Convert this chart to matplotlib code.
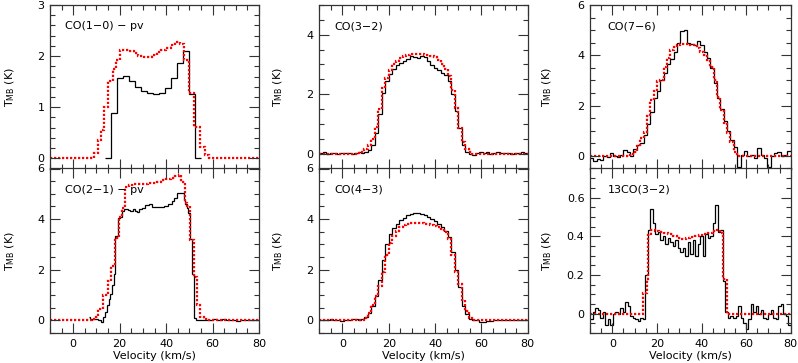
import numpy as np
import matplotlib
matplotlib.use('Agg')
import matplotlib.pyplot as plt
from matplotlib.ticker import MultipleLocator, FuncFormatter

# ---------------- data ----------------
# CO(1-0) observed (black) : channel edges and brightness
co10_obs_edges = [13.7, 16.27, 18.84, 21.41, 23.98, 26.55, 29.12, 31.69, 34.26,
                  36.83, 39.4, 41.97, 44.54, 47.11, 49.68, 52.25, 54.82]
co10_obs = [0, 0.88, 1.58, 1.61, 1.52, 1.39, 1.31, 1.27, 1.25, 1.28, 1.37, 1.57,
            1.86, 2.09, 1.26, 0]
# CO(1-0) pv model (red)
co10_mod_edges = [-10, 8.8, 10.5, 12.0, 13.2, 15.0, 17.0, 18.6, 20.3, 22, 24, 26, 28,
                  30, 32, 34, 36, 38, 40, 42, 44, 46, 47.6, 49.8, 52.2, 54.4, 56.6,
                  58.6, 80]
co10_mod = [0, 0.1, 0.35, 0.55, 1.0, 1.52, 1.75, 1.92, 2.11, 2.12, 2.1, 2.06, 2.01,
            1.98, 1.99, 2.03, 2.08, 2.12, 2.16, 2.21, 2.27, 2.24, 1.93, 1.28, 0.62,
            0.23, 0.06, 0]

# CO(2-1)
co21_obs_edges = [6.6, 7.4, 9.0, 10.5, 12.0, 12.8, 13.6, 14.4, 15.2, 16.0, 16.8, 17.6,
                  18.2, 19.2, 20.2, 21.0, 22.0, 23.4, 24.6, 25.6, 26.6, 27.6, 28.4,
                  29.6, 31.0, 32.6, 34.0, 35.4, 37.0, 39.0, 41.0, 42.4, 43.6, 44.8,
                  47.6, 48.2, 48.8, 49.6, 50.4, 51.2, 52.2, 53.0, 56.0, 58.0, 60.2,
                  62.0, 64.0, 66.0, 68.0, 70.0, 72.0, 76.0, 80.0]
co21_obs = [0.15, 0.05, 0.06, 0.0, -0.06, 0.12, 0.33, 0.62, 0.85, 1.05, 1.4, 1.85,
            3.35, 4.03, 4.1, 4.33, 4.38, 4.36, 4.32, 4.4, 4.33, 4.28, 4.38, 4.45,
            4.55, 4.58, 4.48, 4.47, 4.48, 4.5, 4.58, 4.7, 4.82, 5.03, 4.75, 4.6,
            4.45, 4.25, 3.2, 1.85, 0.08, 0.03, 0.0, 0.02, 0.06, 0.02, 0.05, 0.0,
            0.01, -0.03, 0.02, 0.02]
co21_mod_edges = [-10, 8.0, 9.6, 10.6, 12.7, 14.9, 16.3, 18.2, 19.6, 20.8, 22.4, 24.2,
                  26, 28, 30, 32, 34, 36, 38, 40, 42, 44, 45.6, 46.6, 48.0, 48.8,
                  50.2, 52.0, 53.3, 54.5, 56.5, 58.0, 80]
co21_mod = [0, 0.05, 0.13, 0.46, 1.0, 1.55, 2.15, 3.25, 4.1, 4.43, 5.28, 5.36, 5.38,
            5.37, 5.38, 5.42, 5.44, 5.48, 5.53, 5.58, 5.63, 5.7, 5.75, 5.48, 4.63,
            4.5, 3.17, 1.72, 0.6, 0.13, 0.05, 0]

# uniform 1.5 km/s channel grid (-10 .. 80) for CO(3-2), CO(4-3), CO(7-6)
grid_start, grid_stop, grid_step = -10.0, 80.0, 1.5

co32_obs = [0.02, 0.04, 0.0, 0.01, 0.03, 0.0, 0.02, 0.01, 0.03, 0.0, 0.02, 0.05,
            0.02, 0.06, 0.12, 0.28, 0.7, 1.35, 2.05, 2.45, 2.68, 2.85, 2.97, 3.05,
            3.12, 3.2, 3.27, 3.24, 3.22, 3.3, 3.24, 3.12, 2.98, 2.88, 2.8, 2.7,
            2.63, 2.45, 2.0, 1.45, 0.85, 0.3, 0.06, 0.0, -0.03, 0.02, 0.04, 0.01,
            0.04, 0.0, 0.03, 0.04, 0.01, 0.03, 0.02, 0.0, 0.03, 0.01, 0.04, 0.02]
co32_mod = [0, 0, 0, 0, 0, 0, 0, 0, 0, 0, 0, 0.01, 0.05, 0.14, 0.28, 0.5, 0.9, 1.5,
            2.2, 2.55, 2.82, 3.0, 3.13, 3.22, 3.28, 3.32, 3.34, 3.35, 3.35, 3.34,
            3.33, 3.32, 3.3, 3.25, 3.15, 3.02, 2.85, 2.62, 2.15, 1.55, 0.85, 0.38,
            0.14, 0.04, 0, 0, 0, 0, 0, 0, 0, 0, 0, 0, 0, 0, 0, 0, 0, 0]

co43_obs = [0.0, 0.01, 0.03, 0.05, 0.03, 0.01, -0.02, 0.0, 0.02, 0.06, 0.04, 0.03,
            0.05, 0.12, 0.3, 0.58, 0.95, 1.6, 2.4, 3.0, 3.4, 3.65, 3.82, 3.95, 4.05,
            4.15, 4.22, 4.25, 4.25, 4.22, 4.18, 4.1, 4.02, 3.92, 3.8, 3.68, 3.55,
            3.3, 2.7, 2.0, 1.3, 0.55, 0.25, 0.07, 0.02, 0.0, -0.05, -0.06, -0.04,
            -0.01, 0.0, 0.01, 0.0, 0.01, 0.0, 0.02, 0.01, 0.0, 0.01, 0.0]
co43_mod = [0, 0, 0, 0, 0, 0, 0, 0, 0, 0, 0, 0, 0.02, 0.1, 0.3, 0.62, 0.95, 1.35,
            1.9, 2.6, 3.05, 3.35, 3.55, 3.68, 3.77, 3.82, 3.84, 3.85, 3.85, 3.84,
            3.82, 3.8, 3.77, 3.73, 3.68, 3.6, 3.5, 3.2, 2.6, 1.9, 1.45, 0.8, 0.35,
            0.1, 0.02, 0, 0, 0, 0, 0, 0, 0, 0, 0, 0, 0, 0, 0, 0, 0]

co76_obs = [-0.1, -0.2, -0.14, -0.16, 0.0, -0.06, 0.1, -0.02, -0.04, 0.05, 0.24,
            0.15, -0.02, 0.28, 0.45, 0.52, 0.85, 1.25, 1.75, 2.3, 2.6, 3.0, 3.3,
            3.65, 3.85, 4.15, 4.5, 4.95, 5.0, 4.5, 4.45, 4.4, 4.55, 4.4, 4.15, 3.9,
            3.5, 2.9, 2.3, 1.85, 1.4, 1.0, 0.62, 0.35, -0.43, 0.05, 0.2, 0.0, 0.05,
            -0.08, 0.3, 0.05, -0.1, -0.43, 0.0, 0.1, 0.15, -0.02, 0.05, 0.2]
co76_mod = [0, 0, 0, 0, 0, 0, 0, 0, 0, 0, 0, 0, 0.04, 0.17, 0.4, 0.7, 0.97, 1.57,
            2.24, 2.6, 2.97, 3.0, 3.55, 3.9, 4.2, 4.35, 4.42, 4.45, 4.45, 4.44,
            4.42, 4.4, 4.3, 4.15, 4.0, 3.8, 3.55, 3.0, 2.35, 1.84, 1.3, 0.9, 0.55,
            0.17, 0, 0, 0, 0, 0, 0, 0, 0, 0, 0, 0, 0, 0, 0, 0, 0]

# 13CO(3-2): observed on a 1.125 km/s grid
c13_step = 1.125
c13_obs = [-0.03, 0.01, 0.03, 0.02, -0.02, 0.01, -0.06, -0.03, -0.06, 0.0, 0.01,
           0.0, 0.03, 0.01, 0.06, 0.04, -0.01, -0.02, -0.03, -0.04, -0.02, -0.03,
           0.2, 0.43, 0.54, 0.47, 0.41, 0.42, 0.38, 0.4, 0.36, 0.39, 0.37, 0.35,
           0.38, 0.34, 0.32, 0.34, 0.3, 0.37, 0.31, 0.38, 0.3, 0.36, 0.4, 0.3,
           0.41, 0.39, 0.4, 0.47, 0.56, 0.42, 0.43, 0.17, 0.01, -0.02, -0.01,
           -0.02, -0.01, 0.04, -0.02, -0.05, -0.08, -0.03, 0.05, 0.01, 0.04, 0.0,
           0.02, -0.02, -0.03, 0.0, 0.02, -0.02, -0.03, 0.04, 0.05, 0.0, -0.01,
           -0.06]
c13_mod_edges = [-10, 13.9, 15.4, 16.2, 17.5, 19, 21, 23, 25, 27, 29, 31, 33, 35,
                 37, 39, 41, 43, 45, 47, 48.5, 49.8, 51.6, 80]
c13_mod = [0, 0.107, 0.18, 0.405, 0.43, 0.425, 0.42, 0.415, 0.41, 0.4, 0.39, 0.385,
           0.39, 0.395, 0.4, 0.405, 0.41, 0.415, 0.425, 0.43, 0.415, 0.18, 0]

# ---------------- figure ----------------
W, H = 798, 363
fig = plt.figure(figsize=(W / 100, H / 100), dpi=100)
FS = 8
AXC = '#333333'


def add_ax(x0, x1, y0, y1):
    return fig.add_axes([x0 / W, 1 - y1 / H, (x1 - x0) / W, (y1 - y0) / H])


def fmt(v, pos):
    s = '%g' % round(v, 4)
    return '0' if s == '-0' else s


grid_edges = np.linspace(grid_start, grid_stop, len(co32_obs) + 1)
c13_edges = np.linspace(grid_start, grid_stop, len(c13_obs) + 1)

cols = [(50, 259), (319.3, 527.7), (590, 790.7)]
ytop, ymid, ybot = 5, 168.5, 333
ylab_x = [-0.16, -0.164, -0.18]

panels = [
    # col, row, label, obs(edges, vals), mod(edges, vals), ylim, major, minor
    (0, 0, 'CO(1\u22120) \u2212 pv', (co10_obs_edges, co10_obs), (co10_mod_edges, co10_mod),
     (-0.2, 3.0), 1, 0.2),
    (0, 1, 'CO(2\u22121) \u2212 pv', (co21_obs_edges, co21_obs), (co21_mod_edges, co21_mod),
     (-0.5, 6.0), 2, 0.5),
    (1, 0, 'CO(3\u22122)', (grid_edges, co32_obs), (grid_edges, co32_mod),
     (-0.5, 5.0), 2, 0.5),
    (1, 1, 'CO(4\u22123)', (grid_edges, co43_obs), (grid_edges, co43_mod),
     (-0.5, 6.0), 2, 0.5),
    (2, 0, 'CO(7\u22126)', (grid_edges, co76_obs), (grid_edges, co76_mod),
     (-0.5, 6.0), 2, 0.5),
    (2, 1, '13CO(3\u22122)', (c13_edges, c13_obs), (c13_mod_edges, c13_mod),
     (-0.1, 0.75), 0.2, 0.05),
]

for col, row, label, obs, mod, ylim, major, minor in panels:
    x0, x1 = cols[col]
    y0, y1 = (ytop, ymid) if row == 0 else (ymid, ybot)
    ax = add_ax(x0, x1, y0, y1)
    ax.stairs(obs[1], obs[0], baseline=None, color='black', lw=0.9)
    ax.stairs(mod[1], mod[0], baseline=None, color='#ff0000', lw=1.6,
              linestyle=(0, (1.0, 0.8)))
    ax.set_xlim(-10, 80)
    ax.set_ylim(*ylim)
    ax.xaxis.set_major_locator(MultipleLocator(20))
    ax.xaxis.set_minor_locator(MultipleLocator(5))
    ax.yaxis.set_major_locator(MultipleLocator(major))
    ax.yaxis.set_minor_locator(MultipleLocator(minor))
    ax.yaxis.set_major_formatter(FuncFormatter(fmt))
    ax.tick_params(which='both', direction='in', top=True, right=True,
                   labelsize=FS, pad=4, color=AXC, width=0.8)
    ax.tick_params(which='major', length=7)
    ax.tick_params(which='minor', length=3.5)
    for sp in ax.spines.values():
        sp.set_color(AXC)
        sp.set_linewidth(0.9)
    ax.set_ylabel(r'T$_{\rm MB}$ (K)', fontsize=FS)
    ax.yaxis.set_label_coords(ylab_x[col], 0.5)
    if row == 0:
        ax.tick_params(labelbottom=False)
    else:
        ax.set_xlabel('Velocity (km/s)', fontsize=FS)
        ax.xaxis.set_label_coords(0.5, -0.11)
    tx = 0.088 if col == 2 else 0.072
    ax.text(tx, 0.87, label, transform=ax.transAxes, fontsize=FS, va='center',
            ha='left')

fig.savefig('out.png', dpi=100)
